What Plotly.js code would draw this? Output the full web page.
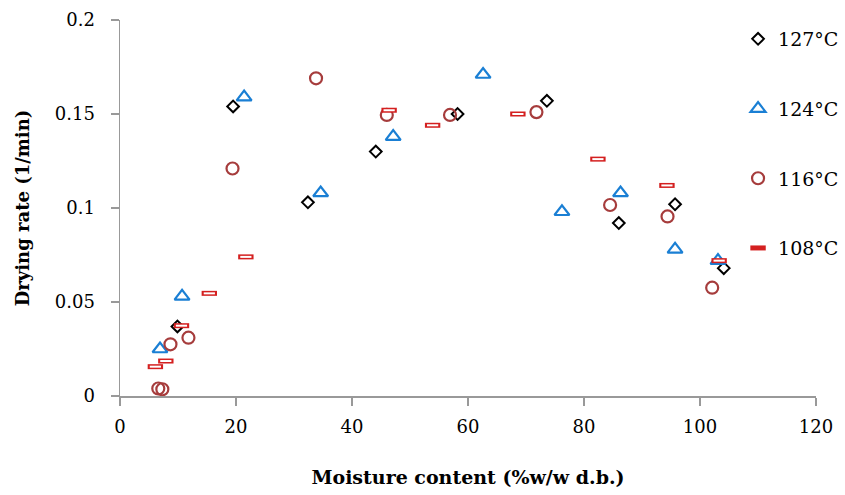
<!DOCTYPE html>
<html>
<head>
<meta charset="utf-8">
<script src="https://cdn.plot.ly/plotly-3.0.1.min.js"></script>
<style>html,body{margin:0;padding:0;background:#fff;}#chart{width:845px;height:495px;}</style>
</head>
<body>
<div id="chart"></div>
<script>
// 127°C
var x127 = [9.9, 19.5, 32.4, 44.1, 58.2, 73.6, 86.0, 95.7, 104.1];
var y127 = [0.037, 0.154, 0.103, 0.130, 0.150, 0.157, 0.092, 0.102, 0.068];
// 124°C
var x124 = [6.9, 10.7, 21.4, 34.6, 47.1, 62.6, 76.2, 86.3, 95.7, 103.1];
var y124 = [0.025, 0.053, 0.159, 0.108, 0.138, 0.171, 0.098, 0.108, 0.078, 0.072];
// 116°C
var x116 = [6.6, 7.3, 8.7, 11.8, 19.4, 33.8, 46.0, 56.9, 71.8, 84.5, 94.4, 102.1];
var y116 = [0.004, 0.0036, 0.0275, 0.031, 0.121, 0.169, 0.1495, 0.1495, 0.151, 0.1016, 0.0955, 0.0576];
// 108°C
var x108 = [6.1, 7.9, 10.6, 15.4, 21.7, 46.4, 53.9, 68.6, 82.4, 94.3, 103.3];
var y108 = [0.0156, 0.0186, 0.0374, 0.0546, 0.074, 0.152, 0.144, 0.150, 0.126, 0.112, 0.072];

var seriesNames = ['127°C', '124°C', '116°C', '108°C'];
var xTicks = [0, 20, 40, 60, 80, 100, 120];
var yTicks = [0, 0.05, 0.1, 0.15, 0.2];

var serif = '"DejaVu Serif", "Liberation Serif", serif';

var traces = [
  {x: x127, y: y127, name: seriesNames[0], legendgroup: 'a', type: 'scatter', mode: 'markers',
   marker: {symbol: 'diamond-open', size: 9, color: '#000000', line: {width: 2, color: '#000000'}}},
  {x: x124, y: y124, name: seriesNames[1], legendgroup: 'b', type: 'scatter', mode: 'markers',
   marker: {symbol: 'triangle-up-open', size: 13, color: '#1a7fd4', line: {width: 2.2, color: '#1a7fd4'}}},
  {x: x116, y: y116, name: seriesNames[2], legendgroup: 'c', type: 'scatter', mode: 'markers',
   marker: {symbol: 'circle-open', size: 12, color: '#a63c3c', line: {width: 2.2, color: '#a63c3c'}}},
  {x: x108, y: y108, name: seriesNames[3], legendgroup: 'd', type: 'scatter', mode: 'markers',
   marker: {symbol: 'line-ew', size: 11, color: '#d42020', line: {width: 5, color: '#d42020'}}},
  {x: x108, y: y108, name: seriesNames[3], legendgroup: 'd', showlegend: false, type: 'scatter', mode: 'markers',
   hoverinfo: 'skip',
   marker: {symbol: 'line-ew', size: 8, color: '#ffffff', line: {width: 2, color: '#ffffff'}}}
];

var layout = {
  width: 845, height: 495,
  margin: {l: 120, r: 29, t: 20, b: 99, autoexpand: false},
  paper_bgcolor: '#ffffff', plot_bgcolor: '#ffffff',
  font: {family: serif, color: '#000000', size: 18},
  showlegend: true,
  legend: {x: 0.888, y: 1.0, xanchor: 'left', yanchor: 'top', font: {family: serif, size: 19, color: '#000'},
           bgcolor: 'rgba(0,0,0,0)', traceorder: 'grouped', tracegroupgap: 42, itemwidth: 30},
  xaxis: {
    range: [0, 120], tickvals: xTicks, ticktext: xTicks.map(String),
    showgrid: false, zeroline: false, showline: true, linecolor: '#999999', linewidth: 1.5,
    ticks: 'outside', ticklen: 8, tickcolor: '#999999', tickwidth: 1.5,
    tickfont: {family: serif, size: 18}, ticklabelstandoff: 6,
    title: {text: '<b>Moisture content (%w/w d.b.)</b>', font: {family: serif, size: 19}, standoff: 34}
  },
  yaxis: {
    range: [0, 0.2], tickvals: yTicks, ticktext: yTicks.map(String),
    showgrid: false, zeroline: false, showline: true, linecolor: '#999999', linewidth: 1.5,
    ticks: 'outside', ticklen: 8, tickcolor: '#999999', tickwidth: 1.5,
    tickfont: {family: serif, size: 18}, ticklabelstandoff: 12,
    title: {text: '<b>Drying rate (1/min)</b>', font: {family: serif, size: 18}, standoff: 20}
  }
};

Plotly.newPlot('chart', traces, layout, {displayModeBar: false, staticPlot: true});
</script>
</body>
</html>
